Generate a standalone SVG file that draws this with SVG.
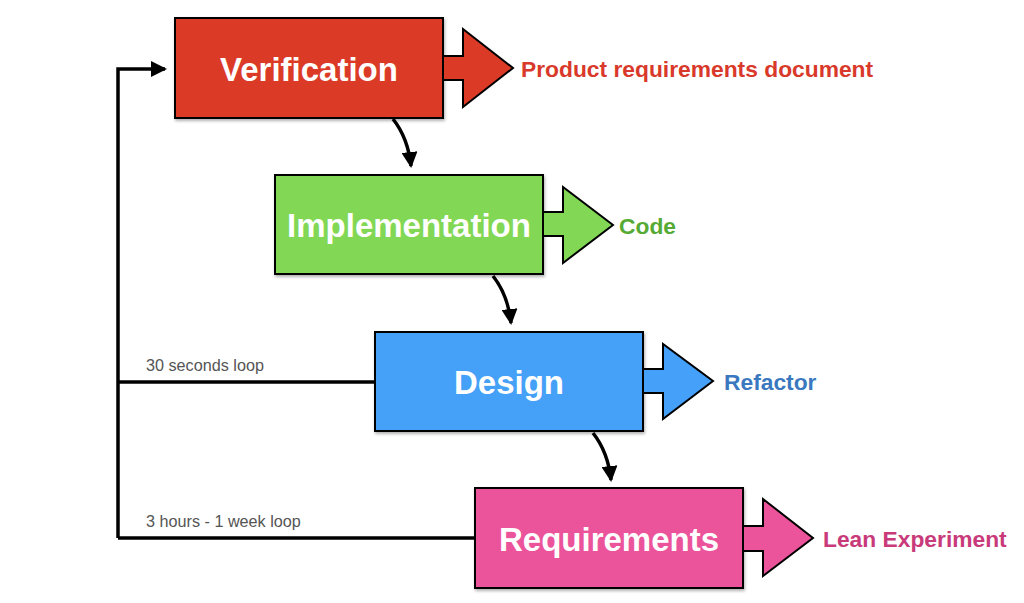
<svg xmlns="http://www.w3.org/2000/svg" width="1024" height="603" viewBox="0 0 1024 603">
<defs>
<marker id="ah2" markerWidth="16" markerHeight="16" refX="14" refY="8" orient="auto" markerUnits="userSpaceOnUse" viewBox="0 0 16 16">
<path d="M0,0 L16,8 L0,16 Z" fill="#000"/>
</marker>
<filter id="sh" x="-5%" y="-5%" width="115%" height="120%">
<feDropShadow dx="1" dy="2" stdDeviation="1.5" flood-color="#000" flood-opacity="0.3"/>
</filter>
</defs>
<style>
.box{stroke:#000;stroke-width:2;}
.lbl{font-family:"Liberation Sans",Arial,sans-serif;font-weight:bold;font-size:33px;fill:#fff;text-anchor:middle;}
.out{font-family:"Liberation Sans",Arial,sans-serif;font-weight:bold;font-size:22.8px;}
.loop{font-family:"Liberation Sans",Arial,sans-serif;font-size:16.2px;fill:#555;}
.big{stroke:#000;stroke-width:2;stroke-linejoin:miter;}
.con{fill:none;stroke:#000;stroke-width:3.5;}
</style>
<rect width="1024" height="603" fill="#fff"/>
<g id="connectors">
<path class="con" d="M118,538 L118,69 L165,69" marker-end="url(#ah2)" stroke-linejoin="miter"/>
<path class="con" d="M375,382 L118,382"/>
<path class="con" d="M475,538 L118,538"/>
<path class="con" d="M393,119 Q408,138 411,166" marker-end="url(#ah2)"/>
<path class="con" d="M493,276 Q508,295 511,323" marker-end="url(#ah2)"/>
<path class="con" d="M593,433 Q608,452 611,480" marker-end="url(#ah2)"/>
<text class="loop" x="146" y="371">30 seconds loop</text>
<text class="loop" x="146" y="527">3 hours - 1 week loop</text>
</g>
<g id="verification">
<rect class="box" x="175" y="18" width="268" height="100" fill="#db3b26" filter="url(#sh)"/>
<text class="lbl" x="309" y="81">Verification</text>
<path class="big" d="M443,56 L463,56 L463,29 L513,68 L463,107 L463,80 L443,80 Z" fill="#db3b26"/>
<text class="out" x="521" y="77" fill="#d9392a">Product requirements document</text>
</g>
<g id="implementation">
<rect class="box" x="275" y="175" width="268" height="99" fill="#82d855" filter="url(#sh)"/>
<text class="lbl" x="409" y="237">Implementation</text>
<path class="big" d="M543,212 L563,212 L563,187 L613,225 L563,263 L563,236 L543,236 Z" fill="#82d855"/>
<text class="out" x="619" y="234" fill="#55aa33">Code</text>
</g>
<g id="design">
<rect class="box" x="375" y="332" width="268" height="99" fill="#44a0f8" filter="url(#sh)"/>
<text class="lbl" x="509" y="394">Design</text>
<path class="big" d="M643,369 L663,369 L663,344 L713,381 L663,419 L663,393 L643,393 Z" fill="#44a0f8"/>
<text class="out" x="724" y="390" fill="#3a78c0">Refactor</text>
</g>
<g id="requirements">
<rect class="box" x="475" y="488" width="268" height="100" fill="#eb539b" filter="url(#sh)"/>
<text class="lbl" x="609" y="551">Requirements</text>
<path class="big" d="M743,526 L763,526 L763,499 L813,538 L763,576 L763,551 L743,551 Z" fill="#eb539b"/>
<text class="out" x="823" y="547" fill="#c83a7a">Lean Experiment</text>
</g>
</svg>
